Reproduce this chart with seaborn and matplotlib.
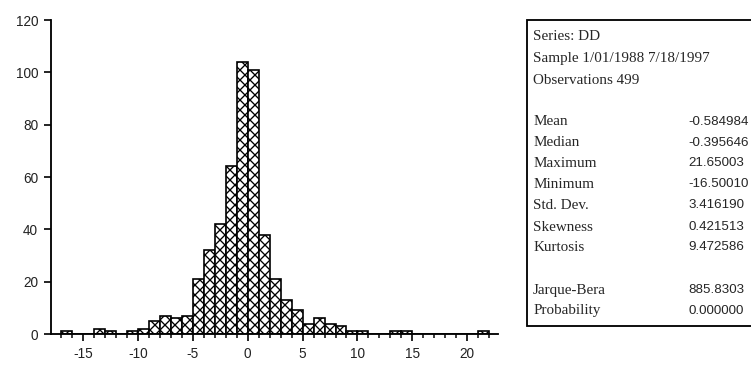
import numpy as np
import pandas as pd
import matplotlib
matplotlib.use("Agg")
import matplotlib.pyplot as plt
from matplotlib.patches import Rectangle
from matplotlib.ticker import MultipleLocator
import seaborn as sns

# Histogram of DD: unit-width bins from -17 to 22, counts per bin
bin_left = list(range(-17, 22))
counts = [1, 0, 0, 2, 1, 0, 1, 2, 5, 7, 6, 7, 21, 32, 42, 64, 104,
          101, 38, 21, 13, 9, 4, 6, 4, 3, 1, 1, 0, 0, 1, 1, 0, 0, 0, 0, 0, 0, 1]

# Descriptive statistics panel
header_lines = ["Series: DD", "Sample 1/01/1988 7/18/1997", "Observations 499"]
stat_names = ["Mean", "Median", "Maximum", "Minimum", "Std. Dev.", "Skewness", "Kurtosis"]
stat_values = ["-0.584984", "-0.395646", "21.65003", "-16.50010", "3.416190", "0.421513", "9.472586"]
test_names = ["Jarque-Bera", "Probability"]
test_values = ["885.8303", "0.000000"]

x_ticks = [-15, -10, -5, 0, 5, 10, 15, 20]
y_ticks = [0, 20, 40, 60, 80, 100, 120]

sns.set_style("ticks")
plt.rcParams["hatch.linewidth"] = 0.8
plt.rcParams["font.family"] = ["Liberation Sans", "DejaVu Sans"]

DPI = 120
W, H = 751, 366
fig = plt.figure(figsize=(W / DPI + 0.001, H / DPI + 0.001), dpi=DPI)
fig.patch.set_facecolor("white")

ax = fig.add_axes([51 / W, (H - 334) / H, (498 - 51) / W, (334 - 20) / H])

df = pd.DataFrame({"x": np.array(bin_left, dtype=float) + 0.5, "n": counts})
sns.histplot(data=df, x="x", weights="n", binwidth=1,
             binrange=(bin_left[0], bin_left[-1] + 1), ax=ax,
             color="white", edgecolor="black", linewidth=1.0, alpha=1)
for p in ax.patches:
    p.set_hatch("xxxx")
    p.set_facecolor("white")

ax.set_xlim(-17.9, 22.8)
ax.set_ylim(0, 120)
ax.set_xticks(x_ticks)
ax.set_xticklabels([str(v) for v in x_ticks])
ax.xaxis.set_minor_locator(MultipleLocator(1))
ax.set_yticks(y_ticks)
ax.set_yticklabels([str(v) for v in y_ticks])
ax.set_xlabel("")
ax.set_ylabel("")
ax.grid(False)
ax.set_facecolor("white")

for side in ("top", "right"):
    ax.spines[side].set_visible(False)
for side in ("left", "bottom"):
    ax.spines[side].set_linewidth(1.1)
    ax.spines[side].set_color("black")

ax.tick_params(axis="both", which="major", direction="out", length=4.2,
               width=1.0, color="black", labelsize=8.2, labelcolor="#222222", pad=3.5)
ax.tick_params(axis="x", which="minor", direction="out", length=2.4, width=0.9, color="black")

# Statistics box
fx = lambda px: px / W
fy = lambda py: 1 - py / H
fig.patches.append(Rectangle((fx(527), fy(326)), fx(800) - fx(527), fy(20) - fy(326),
                             transform=fig.transFigure, facecolor="white",
                             edgecolor="black", linewidth=1.1, zorder=5))

serif = ["Liberation Serif", "DejaVu Serif"]
sans = ["Liberation Sans", "DejaVu Sans"]
fs = 9.1
header_y = [36.7, 58.3, 80.0]
stat_y = [121.7, 142.7, 163.0, 184.0, 205.0, 227.0, 247.3]
test_y = [290.0, 310.7]
for txt, y in zip(header_lines, header_y):
    fig.text(fx(533), fy(y), txt, family=serif, fontsize=fs, va="center", ha="left", zorder=6)
for name, val, y in zip(stat_names + test_names, stat_values + test_values, stat_y + test_y):
    fig.text(fx(533), fy(y), name, family=serif, fontsize=fs, va="center", ha="left", zorder=6)
    fig.text(fx(688), fy(y), val, family=sans, fontsize=8.0, va="center", ha="left", zorder=6)

fig.savefig("out.png", dpi=DPI, facecolor="white")
